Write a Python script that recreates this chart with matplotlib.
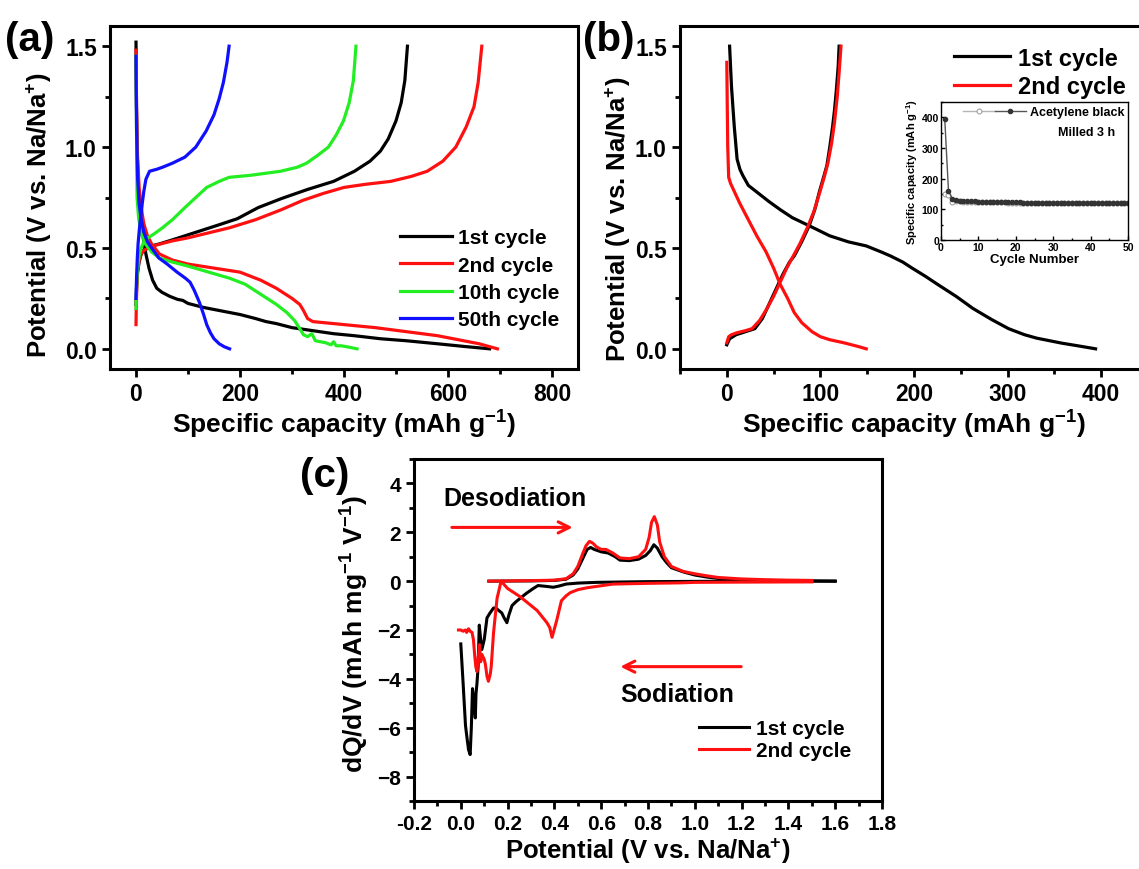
import matplotlib
matplotlib.use("Agg")
import matplotlib.pyplot as plt
from matplotlib.legend_handler import HandlerTuple
from matplotlib.ticker import MultipleLocator, FormatStrFormatter

plt.rcParams['font.family'] = ['Liberation Sans', 'DejaVu Sans']
plt.rcParams['font.weight'] = 'bold'
plt.rcParams['axes.labelweight'] = 'bold'
plt.rcParams['mathtext.fontset'] = 'custom'
plt.rcParams['mathtext.rm'] = 'Liberation Sans:bold'
plt.rcParams['mathtext.bf'] = 'Liberation Sans:bold'
plt.rcParams['mathtext.it'] = 'Liberation Sans:bold'
plt.rcParams['mathtext.default'] = 'rm'

# ---------------- panel (a): charge/discharge, several cycles ----------------
a_c1_dis_x = [0, 1, 2, 5, 8, 12, 19, 25, 32, 40, 50, 65, 80, 90, 100, 130, 160, 200, 230, 250,
              270, 300, 340, 380, 420, 470, 520, 580, 630, 680]
a_c1_dis_v = [1.52, 1.2, 1.0, 0.75, 0.66, 0.58, 0.47, 0.40, 0.34, 0.30, 0.28, 0.26, 0.245, 0.24,
              0.225, 0.205, 0.19, 0.17, 0.15, 0.135, 0.125, 0.105, 0.09, 0.075, 0.065, 0.05, 0.04,
              0.025, 0.012, 0.0]
a_c1_chg_x = [0, 1, 3, 6, 10, 15, 22, 30, 45, 70, 100, 130, 160, 195, 235, 280, 330, 380, 420,
              450, 470, 485, 500, 510, 517, 522]
a_c1_chg_v = [0.22, 0.3, 0.38, 0.43, 0.47, 0.49, 0.505, 0.51, 0.52, 0.54, 0.565, 0.59, 0.615,
              0.645, 0.7, 0.745, 0.79, 0.83, 0.88, 0.93, 0.98, 1.04, 1.13, 1.22, 1.33, 1.5]

a_c2_dis_x = [0, 1, 3, 6, 10, 15, 22, 30, 45, 70, 100, 150, 200, 240, 270, 300, 315, 322, 330,
              340, 380, 420, 460, 520, 580, 620, 660, 695]
a_c2_dis_v = [1.48, 1.2, 0.95, 0.8, 0.7, 0.62, 0.56, 0.52, 0.47, 0.44, 0.42, 0.4, 0.38, 0.34,
              0.3, 0.25, 0.22, 0.19, 0.15, 0.135, 0.125, 0.115, 0.105, 0.085, 0.065, 0.045, 0.025, 0.0]
a_c2_chg_x = [0, 0.5, 1.5, 3, 6, 10, 16, 25, 40, 70, 100, 140, 180, 230, 280, 320, 360, 400,
              440, 490, 530, 560, 590, 615, 635, 650, 658, 665]
a_c2_chg_v = [0.12, 0.2, 0.3, 0.38, 0.44, 0.47, 0.49, 0.5, 0.515, 0.535, 0.55, 0.575, 0.6, 0.64,
              0.69, 0.735, 0.77, 0.8, 0.815, 0.83, 0.855, 0.88, 0.93, 1.0, 1.1, 1.2, 1.32, 1.5]

a_c10_dis_x = [0, 2, 5, 10, 18, 30, 45, 70, 100, 140, 180, 210, 240, 270, 290, 305, 315, 322,
               330, 338, 345, 355, 365, 375, 380, 385, 395, 410, 425]
a_c10_dis_v = [1.45, 0.75, 0.65, 0.57, 0.52, 0.48, 0.45, 0.43, 0.41, 0.38, 0.35, 0.32, 0.27,
               0.22, 0.18, 0.14, 0.1, 0.07, 0.06, 0.075, 0.04, 0.035, 0.03, 0.02, 0.035, 0.015,
               0.015, 0.008, 0.0]
a_c10_chg_x = [0, 1, 3, 6, 10, 15, 23, 35, 51, 70, 94, 115, 136, 160, 179, 220, 278, 310, 328,
               350, 370, 385, 399, 410, 418, 423]
a_c10_chg_v = [0.2, 0.3, 0.4, 0.46, 0.5, 0.53, 0.55, 0.57, 0.6, 0.64, 0.7, 0.75, 0.8, 0.83,
               0.85, 0.86, 0.88, 0.9, 0.92, 0.96, 1.0, 1.06, 1.13, 1.22, 1.33, 1.5]

a_c50_dis_x = [0, 1, 3, 6, 10, 15, 22, 30, 44, 60, 79, 95, 104, 112, 122, 130, 136, 143, 150,
               160, 170, 180]
a_c50_dis_v = [1.45, 1.1, 0.85, 0.72, 0.64, 0.58, 0.53, 0.5, 0.45, 0.42, 0.38, 0.35, 0.33, 0.29,
               0.23, 0.17, 0.12, 0.08, 0.05, 0.025, 0.01, 0.0]
a_c50_chg_x = [0, 1, 2.5, 4, 6, 8, 10, 12, 15, 19, 26, 40, 51, 70, 94, 115, 135, 150, 160, 168,
               175, 179]
a_c50_chg_v = [0.25, 0.35, 0.45, 0.52, 0.58, 0.63, 0.67, 0.72, 0.78, 0.84, 0.88, 0.89, 0.9, 0.92,
               0.95, 1.0, 1.08, 1.16, 1.24, 1.32, 1.42, 1.5]

# ---------------- panel (b): acetylene black, 1st/2nd cycle ----------------
b_c1_dis_x = [3, 5, 8, 11, 14, 17, 23, 34, 45, 57, 70, 88, 110, 130, 149, 165, 175, 188, 198,
              212, 225, 245, 263, 283, 301, 318, 331, 345, 358, 375, 394]
b_c1_dis_v = [1.5, 1.3, 1.1, 0.94, 0.89, 0.86, 0.81, 0.77, 0.73, 0.69, 0.65, 0.61, 0.56, 0.53,
              0.51, 0.48, 0.46, 0.43, 0.40, 0.36, 0.32, 0.26, 0.20, 0.145, 0.10, 0.07, 0.053,
              0.04, 0.028, 0.015, 0.0]
b_c1_chg_x = [0, 3, 10, 20, 30, 38, 46, 53, 60, 67, 72, 80, 88, 94, 99, 104, 107, 110, 113,
              115, 117, 119, 120]
b_c1_chg_v = [0.02, 0.05, 0.07, 0.085, 0.1, 0.15, 0.23, 0.3, 0.37, 0.43, 0.46, 0.53, 0.61,
              0.69, 0.78, 0.86, 0.91, 1.0, 1.1, 1.18, 1.28, 1.4, 1.5]
b_c2_dis_x = [0, 0.5, 1, 2, 4, 8, 14, 23, 32, 42, 50, 57, 65, 72, 80, 91, 100, 110, 125, 140, 149]
b_c2_dis_v = [1.42, 1.2, 1.0, 0.85, 0.82, 0.78, 0.72, 0.64, 0.56, 0.48, 0.4, 0.32, 0.25, 0.18,
              0.13, 0.085, 0.06, 0.045, 0.03, 0.012, 0.0]
b_c2_chg_x = [0, 2, 5, 11, 20, 27, 35, 43, 50, 57, 64, 71, 78, 86, 93, 99, 104, 108, 112, 115,
              118, 120, 122]
b_c2_chg_v = [0.03, 0.06, 0.07, 0.08, 0.09, 0.1, 0.14, 0.2, 0.26, 0.33, 0.4, 0.46, 0.52, 0.6,
              0.68, 0.77, 0.85, 0.92, 1.02, 1.12, 1.25, 1.37, 1.5]

# inset: cycling
cycles = list(range(1, 51))
cap_acetylene = [150, 148, 125, 126, 126, 125, 125, 125, 124, 124,
                 124, 124, 123, 123, 123, 123, 123, 122, 122, 122,
                 122, 122, 122, 122, 121, 121, 121, 121, 121, 121,
                 121, 121, 121, 120, 120, 120, 120, 120, 120, 120,
                 120, 120, 120, 120, 120, 120, 120, 120, 120, 120]
cap_milled = [395, 160, 135, 130, 128, 127, 127, 126, 126, 125,
              125, 125, 124, 124, 124, 124, 123, 123, 123, 123,
              123, 122, 122, 122, 122, 122, 122, 121, 121, 121,
              121, 121, 121, 121, 121, 120, 120, 120, 121, 121,
              120, 120, 120, 120, 120, 120, 120, 120, 120, 120]

# ---------------- panel (c): dQ/dV ----------------
c1_sod_v = [1.6, 1.2, 1.0, 0.8, 0.65, 0.58, 0.5, 0.45, 0.42, 0.395, 0.37, 0.35, 0.33, 0.31, 0.28,
            0.254, 0.235, 0.219, 0.205, 0.197, 0.185, 0.175, 0.162, 0.15, 0.14, 0.125, 0.112,
            0.1, 0.09, 0.085, 0.079, 0.074, 0.069, 0.065, 0.062, 0.056, 0.05, 0.045, 0.04, 0.033,
            0.025, 0.02, 0.01, 0.0]
c1_sod_q = [0.0, 0.0, -0.01, -0.02, -0.04, -0.05, -0.08, -0.12, -0.2, -0.25, -0.22, -0.2, -0.18,
            -0.3, -0.5, -0.7, -0.85, -1.0, -1.4, -1.7, -1.5, -1.3, -1.2, -1.1, -1.1, -1.3, -1.5,
            -2.4, -2.8, -2.4, -1.8, -3.5, -4.2, -4.6, -5.6, -5.0, -4.4, -6.0, -7.1, -6.9, -6.3,
            -5.9, -4.2, -2.57]
c1_des_v = [0.12, 0.3, 0.4, 0.45, 0.48, 0.5, 0.52, 0.54, 0.555, 0.57, 0.6, 0.63, 0.66, 0.68,
            0.72, 0.76, 0.79, 0.81, 0.825, 0.84, 0.86, 0.88, 0.9, 0.95, 1.0, 1.05, 1.1, 1.2, 1.3,
            1.4, 1.5, 1.6]
c1_des_q = [0, 0.01, 0.03, 0.08, 0.25, 0.5, 0.9, 1.3, 1.38, 1.3, 1.2, 1.15, 1.0, 0.86, 0.84,
            0.9, 1.05, 1.25, 1.49, 1.35, 1.0, 0.75, 0.55, 0.38, 0.25, 0.17, 0.11, 0.06, 0.03,
            0.02, 0.01, 0.0]
c2_sod_v = [1.5, 1.2, 1.0, 0.94, 0.8, 0.65, 0.54, 0.5, 0.468, 0.45, 0.43, 0.41, 0.39, 0.38,
            0.368, 0.326, 0.254, 0.2, 0.172, 0.165, 0.155, 0.14, 0.13, 0.126, 0.118, 0.112,
            0.105, 0.1, 0.09, 0.085, 0.08, 0.074, 0.069, 0.064, 0.06, 0.054, 0.048, 0.04, 0.033,
            0.025, 0.02, 0.01, 0.0, -0.01]
c2_sod_q = [-0.03, -0.04, -0.05, -0.07, -0.09, -0.12, -0.27, -0.35, -0.47, -0.6, -0.8, -1.6,
            -2.3, -1.9, -1.7, -1.2, -0.64, -0.3, 0.0, -0.3, -0.7, -2.1, -3.5, -3.8, -4.1, -3.9,
            -3.4, -3.2, -3.0, -3.3, -2.6, -3.2, -3.7, -3.5, -3.1, -2.4, -2.1, -2.05, -1.95,
            -2.1, -2.0, -2.05, -2.0, -2.0]
c2_des_v = [0.12, 0.3, 0.4, 0.45, 0.48, 0.5, 0.52, 0.535, 0.55, 0.565, 0.58, 0.6, 0.62, 0.65,
            0.68, 0.72, 0.76, 0.79, 0.805, 0.815, 0.827, 0.84, 0.85, 0.87, 0.9, 0.95, 1.0, 1.05,
            1.1, 1.2, 1.3, 1.4, 1.5]
c2_des_q = [0.0, 0.02, 0.04, 0.1, 0.3, 0.6, 1.1, 1.45, 1.63, 1.55, 1.4, 1.3, 1.3, 1.15, 0.95,
            0.92, 1.0, 1.3, 1.8, 2.4, 2.64, 2.3, 1.6, 1.0, 0.6, 0.4, 0.3, 0.22, 0.15, 0.09, 0.06,
            0.04, 0.03]

RED = '#ff1010'
GREEN = '#22ee22'
BLUE = '#1010ff'

W, H = 1139, 870


def rect(l, t, r, b):
    return [l / W, 1 - b / H, (r - l) / W, (b - t) / H]


def style_axes(ax, fs):
    for s in ax.spines.values():
        s.set_linewidth(2.2)
    ax.tick_params(which='both', direction='out', top=False, right=False, width=2,
                   labelsize=fs)
    ax.tick_params(which='major', length=6)
    ax.tick_params(which='minor', length=3.5)


fig = plt.figure(figsize=(W / 100, H / 100), dpi=100)

# ---- (a)
ax = fig.add_axes(rect(110, 27, 578, 370))
lw = 2.3
ax.plot(a_c1_dis_x, a_c1_dis_v, color='black', lw=lw, label='1st cycle')
ax.plot(a_c1_chg_x, a_c1_chg_v, color='black', lw=lw)
ax.plot(a_c2_dis_x, a_c2_dis_v, color=RED, lw=lw, label='2nd cycle')
ax.plot(a_c2_chg_x, a_c2_chg_v, color=RED, lw=lw)
ax.plot(a_c10_dis_x, a_c10_dis_v, color=GREEN, lw=lw, label='10th cycle')
ax.plot(a_c10_chg_x, a_c10_chg_v, color=GREEN, lw=lw)
ax.plot(a_c50_dis_x, a_c50_dis_v, color=BLUE, lw=lw, label='50th cycle')
ax.plot(a_c50_chg_x, a_c50_chg_v, color=BLUE, lw=lw)
ax.set_xlim(-50, 850)
ax.set_ylim(-0.1, 1.6)
ax.xaxis.set_major_locator(MultipleLocator(200))
ax.xaxis.set_minor_locator(MultipleLocator(100))
ax.yaxis.set_major_locator(MultipleLocator(0.5))
ax.yaxis.set_minor_locator(MultipleLocator(0.25))
ax.yaxis.set_major_formatter(FormatStrFormatter('%.1f'))
style_axes(ax, 16.5)
ax.set_xlabel('Specific capacity (mAh g$^{-1}$)', fontsize=19, labelpad=2)
ax.set_ylabel('Potential (V vs. Na/Na$^{+}$)', fontsize=18.5)
ax.yaxis.set_label_coords(-0.12, 0.45)
ax.legend(loc='upper left', bbox_to_anchor=(0.62, 0.41), frameon=False, fontsize=15,
          handlelength=2.5, handletextpad=0.3, labelspacing=0.4, borderpad=0,
          borderaxespad=0)

# ---- (b)
ax = fig.add_axes(rect(680, 27, 1148, 370))
ax.plot(b_c1_dis_x, b_c1_dis_v, color='black', lw=lw, label='1st cycle')
ax.plot(b_c1_chg_x, b_c1_chg_v, color='black', lw=lw)
ax.plot(b_c2_dis_x, b_c2_dis_v, color=RED, lw=lw, label='2nd cycle')
ax.plot(b_c2_chg_x, b_c2_chg_v, color=RED, lw=lw)
ax.set_xlim(-50, 450)
ax.set_ylim(-0.1, 1.6)
ax.xaxis.set_major_locator(MultipleLocator(100))
ax.xaxis.set_minor_locator(MultipleLocator(50))
ax.yaxis.set_major_locator(MultipleLocator(0.5))
ax.yaxis.set_minor_locator(MultipleLocator(0.25))
ax.yaxis.set_major_formatter(FormatStrFormatter('%.1f'))
style_axes(ax, 16.5)
ax.set_xlabel('Specific capacity (mAh g$^{-1}$)', fontsize=19, labelpad=2)
ax.set_ylabel('Potential (V vs. Na/Na$^{+}$)', fontsize=18.5)
ax.yaxis.set_label_coords(-0.1, 0.44)
ax.legend(loc='upper left', bbox_to_anchor=(0.585, 0.94), frameon=False, fontsize=17,
          handlelength=2.4, handletextpad=0.3, labelspacing=0.22, borderpad=0,
          borderaxespad=0)

# inset
axi = fig.add_axes(rect(941, 103, 1128, 241))
h1, = axi.plot(cycles, cap_acetylene, color='#b5b5b5', lw=1, marker='o', ms=3.5,
               mfc='white', mec='#a0a0a0', mew=0.8)
h2, = axi.plot(cycles, cap_milled, color='#555555', lw=1, marker='o', ms=3,
               mfc='#333333', mec='#333333')
axi.set_xlim(0, 50)
axi.set_ylim(0, 450)
axi.xaxis.set_major_locator(MultipleLocator(10))
axi.xaxis.set_minor_locator(MultipleLocator(5))
axi.yaxis.set_major_locator(MultipleLocator(100))
axi.yaxis.set_minor_locator(MultipleLocator(50))
for s in axi.spines.values():
    s.set_linewidth(1)
axi.tick_params(which='both', direction='in', labelsize=7.5, width=1, pad=1.5)
axi.tick_params(which='major', length=3)
axi.tick_params(which='minor', length=1.5)
axi.set_xlabel('Cycle Number', fontsize=9.5, labelpad=1)
axi.set_ylabel('Specific capacity (mAh g$^{-1}$)', fontsize=8, labelpad=1)
axi.legend([(h1, h2)], ['Acetylene black'], handler_map={tuple: HandlerTuple(ndivide=None, pad=0)},
           loc='upper left', bbox_to_anchor=(0.12, 0.97), frameon=False, fontsize=9,
           handlelength=5, handletextpad=0.3, borderpad=0, borderaxespad=0)
axi.text(0.93, 0.78, 'Milled 3 h', transform=axi.transAxes, fontsize=9, ha='right',
         va='center')

# ---- (c)
ax = fig.add_axes(rect(414, 460, 882, 802))
lwc = 2.2
ax.plot(c1_sod_v, c1_sod_q, color='black', lw=lwc, label='1st cycle')
ax.plot(c1_des_v, c1_des_q, color='black', lw=lwc)
ax.plot(c2_sod_v, c2_sod_q, color=RED, lw=lwc, label='2nd cycle')
ax.plot(c2_des_v, c2_des_q, color=RED, lw=lwc)
ax.set_xlim(-0.2, 1.8)
ax.set_ylim(-9, 5)
ax.xaxis.set_major_locator(MultipleLocator(0.2))
ax.xaxis.set_minor_locator(MultipleLocator(0.1))
ax.yaxis.set_major_locator(MultipleLocator(2))
ax.yaxis.set_minor_locator(MultipleLocator(1))
ax.xaxis.set_major_formatter(FormatStrFormatter('%.1f'))
style_axes(ax, 15)
ax.set_xlabel('Potential (V vs. Na/Na$^{+}$)', fontsize=18.5, labelpad=2)
ax.set_ylabel('dQ/dV (mAh mg$^{-1}$ V$^{-1}$)', fontsize=19)
ax.yaxis.set_label_coords(-0.092, 0.49)
ax.annotate('', xy=(0.49, 2.2), xytext=(-0.05, 2.2),
            arrowprops=dict(arrowstyle='->', color=RED, lw=2.2, mutation_scale=20))
ax.annotate('', xy=(0.67, -3.5), xytext=(1.21, -3.5),
            arrowprops=dict(arrowstyle='->', color=RED, lw=2.2, mutation_scale=20))
ax.text(0.23, 3.4, 'Desodiation', fontsize=18, ha='center', va='center')
ax.text(0.925, -4.6, 'Sodiation', fontsize=18, ha='center', va='center')
ax.legend(loc='upper left', bbox_to_anchor=(0.61, 0.24), frameon=False, fontsize=15,
          handlelength=2.4, handletextpad=0.3, labelspacing=0.15, borderpad=0,
          borderaxespad=0)

fig.text(5 / W, 1 - 40 / H, '(a)', fontsize=29, va='center', ha='left')
fig.text(583 / W, 1 - 40 / H, '(b)', fontsize=29, va='center', ha='left')
fig.text(300 / W, 1 - 476 / H, '(c)', fontsize=29, va='center', ha='left')

fig.savefig('out.png', dpi=100)
